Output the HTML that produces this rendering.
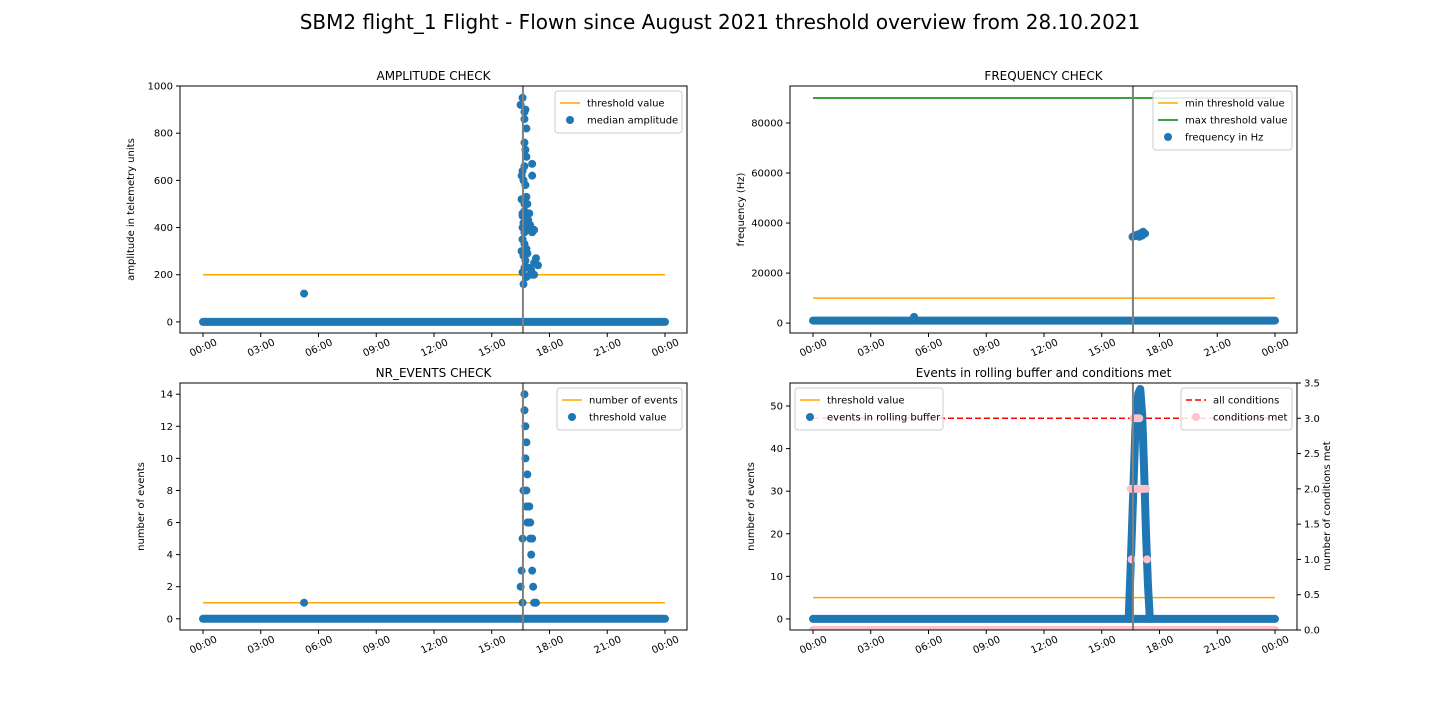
<!DOCTYPE html>
<html><head><meta charset="utf-8"><style>
body{margin:0;background:#fff}
svg{font-family:"DejaVu Sans","Liberation Sans",sans-serif}
</style></head><body>
<svg id="fig" width="1440" height="720" xmlns="http://www.w3.org/2000/svg">
<rect width="1440" height="720" fill="#fff"/>
<text x="720" y="29" font-size="20" text-anchor="middle">SBM2 flight_1 Flight - Flown since August 2021 threshold overview from 28.10.2021</text>
</svg>
<script>
// ---- data (time in hours of day) ----
const tickLabels=["00:00","03:00","06:00","09:00","12:00","15:00","18:00","21:00","00:00"];
const markerTime=16.62;
const outlierTime=5.25;
const ampThreshold=200;
const ampOutlier=120;
const ampTimes=[16.5,16.6,16.7,16.75,16.7,16.8,16.7,16.75,16.8,16.7,16.6,16.55,17.1,16.65,16.75,16.8,16.55,16.7,16.85,16.6,16.6,16.7,16.8,16.9,16.75,16.65,16.6,16.8,16.7,17.1,17.0,17.2,16.6,16.7,16.8,16.75,16.85,17.3,17.4,17.2,17.1,16.55,16.65,16.75,16.9,17.05,16.6,16.7,16.8,17.2,17.0,16.65,17.1,16.95,16.9];
const ampValues=[920,950,890,900,860,820,760,730,700,660,640,620,670,600,580,530,520,500,500,460,450,470,440,430,400,420,400,420,380,380,410,390,350,330,310,300,290,270,240,250,200,300,280,260,230,220,210,230,190,200,200,160,620,460,390];
const freqMin=10000, freqMax=90000, freqBase=1000, freqOutlier=2500;
const freqTimes=[16.6,16.7,16.8,16.9,17.0,17.05,17.1,17.15,17.2,17.25,16.75,16.95,17.1];
const freqValues=[34500,35000,35200,35500,35000,36000,35500,36500,36000,35800,34800,34500,35000];
const nrThreshold=1;
const nrTimes=[16.5,16.6,16.65,16.7,16.7,16.75,16.8,16.75,16.85,16.8,16.9,16.95,17.0,17.05,17.1,17.15,17.2,17.25,17.3,16.55,16.6,16.8,16.85,16.95,17.0,17.1];
const nrValues=[2,5,8,14,13,12,11,10,9,8,7,6,5,4,3,2,1,1,1,3,1,7,6,7,6,5];
const bufThreshold=5;
const bufTimes=[16.4,16.5,16.6,16.75,16.9,17.0,17.1,17.2,17.3,17.4,17.5];
const bufValues=[0,12,25,45,53,54,48,35,20,8,0];
const condAll=3;
const condTimes=[16.55,16.5,16.6,16.7,16.8,16.9,17.0,17.1,17.2,17.3,17.35,16.65,16.75,16.85,16.95];
const condValues=[1,2,2,2,2,2,2,2,2,2,1,3,3,3,3];

const NS="http://www.w3.org/2000/svg";
const fig=document.getElementById('fig');
function el(tag,attrs,parent){const e=document.createElementNS(NS,tag);for(const k in attrs)e.setAttribute(k,attrs[k]);(parent||fig).appendChild(e);return e;}
const BLUE="#1f77b4",ORANGE="orange";

function makeAxes(name,L,T,R,B,ymin,ymax,yticks,ylabel,title){
  const g=el('g',{});
  
  
  const x0=L+23, x1=R-22;
  const sx=h=>x0+(x1-x0)*h/24;
  const sy=v=>B-(B-T)*(v-ymin)/(ymax-ymin);
  const clip=el('clipPath',{id:'c'+name},g);el('rect',{x:L,y:T,width:R-L,height:B-T},clip);
  const plot=el('g',{'clip-path':`url(#c${name})`},g);
  tickLabels.forEach((t,i)=>{const x=sx(i*3);
    el('line',{x1:x,x2:x,y1:B,y2:B+4,stroke:'#000'},g);
    const tx=el('text',{x:x,y:B+18,'font-size':10,'text-anchor':'middle',transform:`rotate(-25 ${x} ${B+14})`},g);
    tx.textContent=t;});
  yticks.forEach(v=>{const y=sy(v);
    el('line',{x1:L-4,x2:L,y1:y,y2:y,stroke:'#000'},g);
    const tx=el('text',{x:L-7,y:y+3.5,'font-size':10,'text-anchor':'end'},g);
    tx.textContent=v;});
  const lx=L-36-(String(yticks[yticks.length-1]).length>3?10:0);
  const yl=el('text',{x:lx,y:(T+B)/2,'font-size':10,'text-anchor':'middle',transform:`rotate(-90 ${lx} ${(T+B)/2})`},g);
  yl.textContent=ylabel;
  const tt=el('text',{x:(L+R)/2,y:T-6,'font-size':12,'text-anchor':'middle'},g);
  tt.textContent=title;
  return {g,plot,sx,sy,L,T,R,B};
}
function frame(a){el('rect',{x:a.L,y:a.T,width:a.R-a.L,height:a.B-a.T,fill:'none',stroke:'#000','stroke-width':1},a.g);}
function hline(a,v,color,dash){const l=el('line',{x1:a.sx(0),x2:a.sx(24),y1:a.sy(v),y2:a.sy(v),stroke:color,'stroke-width':1.5,'stroke-dasharray':dash||''},a.plot);}
function vline(a){el('line',{x1:a.sx(markerTime),x2:a.sx(markerTime),y1:a.T,y2:a.B,stroke:'grey','stroke-width':2},a.plot);}
function baseline(a,v){const r=el('rect',{x:a.sx(0)-4,y:a.sy(v)-4,width:a.sx(24)-a.sx(0)+8,height:8,rx:4,fill:BLUE},a.plot);}
function dots(a,ts,vs,color,r){ts.forEach((t,i)=>{const c=el('circle',{cx:a.sx(t),cy:a.sy(vs[i]),r:r||4,fill:color},a.plot);});}
function legend(a,x,y,w,items){const h=items.length*17+8;
  const lg=el('g',{},a.g);
  el('rect',{x,y,width:w,height:h,rx:3,fill:'#fff',stroke:'#ccc','fill-opacity':0.85},lg);
  items.forEach((it,i)=>{const cy=y+12+i*17;
    if(it.type==='line')el('line',{x1:x+5,x2:x+25,y1:cy,y2:cy,stroke:it.color,'stroke-width':1.5,'stroke-dasharray':it.dash||''},lg);
    else el('circle',{cx:x+15,cy:cy,r:4,fill:it.color},lg);
    const t=el('text',{x:x+32,y:cy+3.5,'font-size':10},lg);t.textContent=it.label;});}

let a=makeAxes('amplitude-check',180,86,687,333,-47,1000,[0,200,400,600,800,1000],'amplitude in telemetry units','AMPLITUDE CHECK');
hline(a,ampThreshold,ORANGE);baseline(a,0);dots(a,[outlierTime],[ampOutlier],BLUE);dots(a,ampTimes,ampValues,BLUE);vline(a);frame(a);
legend(a,555,91,127,[{type:'line',color:ORANGE,label:'threshold value'},{type:'dot',color:BLUE,label:'median amplitude'}]);
a=makeAxes('frequency-check',790,86,1297,333,-3960,94800,[0,20000,40000,60000,80000],'frequency (Hz)','FREQUENCY CHECK');
hline(a,freqMin,ORANGE);hline(a,freqMax,'green');baseline(a,freqBase);dots(a,[outlierTime],[freqOutlier],BLUE);dots(a,freqTimes,freqValues,BLUE);vline(a);frame(a);
legend(a,1153,91,139,[{type:'line',color:ORANGE,label:'min threshold value'},{type:'line',color:'green',label:'max threshold value'},{type:'dot',color:BLUE,label:'frequency in Hz'}]);
a=makeAxes('nr-events-check',180,383,687,630,-0.7,14.7,[0,2,4,6,8,10,12,14],'number of events','NR_EVENTS CHECK');
hline(a,nrThreshold,ORANGE);baseline(a,0);dots(a,[outlierTime],[1],BLUE);dots(a,nrTimes,nrValues,BLUE);vline(a);frame(a);
legend(a,557,388,125,[{type:'line',color:ORANGE,label:'number of events'},{type:'dot',color:BLUE,label:'threshold value'}]);
a=makeAxes('rolling-buffer-check',790,383,1297,630,-2.6,55.4,[0,10,20,30,40,50],'number of events','Events in rolling buffer and conditions met');
const sy2=v=>630-(630-383)*v/3.5;
hline(a,bufThreshold,ORANGE);
el('line',{x1:a.sx(0),x2:a.sx(24),y1:sy2(condAll),y2:sy2(condAll),stroke:'red','stroke-width':1.5,'stroke-dasharray':'6,3'},a.plot);
el('rect',{x:a.sx(0)-4,y:626,width:a.sx(24)-a.sx(0)+8,height:8,rx:4,fill:'pink'},a.plot);
baseline(a,0);
const pts=bufTimes.map((t,i)=>a.sx(t)+','+a.sy(bufValues[i])).join(' ');
const pl=el('polyline',{points:pts,fill:'none',stroke:BLUE,'stroke-width':8,'stroke-linejoin':'round','stroke-linecap':'round'},a.plot);

condTimes.forEach((t,i)=>{const c=el('circle',{cx:a.sx(t),cy:sy2(condValues[i]),r:4,fill:'pink'},a.plot);});
vline(a);frame(a);
[0,0.5,1,1.5,2,2.5,3,3.5].forEach(v=>{const y=sy2(v);el('line',{x1:1297,x2:1301,y1:y,y2:y,stroke:'#000'});const t=el('text',{x:1304,y:y+3.5,'font-size':10});t.textContent=v.toFixed(1);});
const y2t=el('text',{x:1330,y:506,'font-size':10,'text-anchor':'middle',transform:'rotate(-90 1330 506)'});y2t.textContent='number of conditions met';
legend(a,795,388,148,[{type:'line',color:ORANGE,label:'threshold value'},{type:'dot',color:BLUE,label:'events in rolling buffer'}]);
legend(a,1181,388,111,[{type:'line',color:'red',dash:'6,3',label:'all conditions'},{type:'dot',color:'pink',label:'conditions met'}]);
</script>
</body></html>
